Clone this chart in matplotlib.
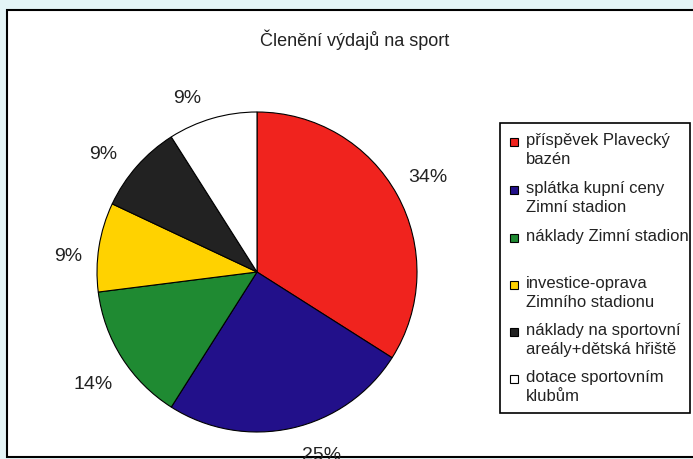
import matplotlib.pyplot as plt
from matplotlib.patches import Rectangle

plt.rcParams['font.family'] = ['Liberation Sans', 'DejaVu Sans']

title = 'Členění výdajů na sport'
labels = ['příspěvek Plavecký\nbazén',
          'splátka kupní ceny\nZimní stadion',
          'náklady Zimní stadion',
          'investice-oprava\nZimního stadionu',
          'náklady na sportovní\nareály+dětská hřiště',
          'dotace sportovním\nklubům']
shares = [34, 25, 14, 9, 9, 9]
colors = ['#f0231e', '#22108a', '#1f8a32', '#ffd200', '#222222', '#ffffff']
# first-line y of each legend entry (pixels from top)
legend_rows = [142, 190, 238, 285, 332, 379]
# small label nudges (pixels, x right / y up) to mimic Excel placement
label_nudge = [(0, 0), (22, 7), (1, -8), (4, -15), (-7, -12), (-15, -14)]

fig = plt.figure(figsize=(6.93, 4.59), dpi=100)
fig.patch.set_facecolor('#e4f4f6')
W, H = 693, 459
R = 160

# white chart area with black frame
fig.patches.append(Rectangle((7 / W, 1 - 457 / H), 700 / W, 447 / H,
                             transform=fig.transFigure, facecolor='white',
                             edgecolor='black', linewidth=1.5, zorder=-5))

ax = fig.add_axes([(257 - R) / W, (459 - 432) / H, 2 * R / W, 2 * R / H])
ax.patch.set_visible(False)
wedges, texts, autotexts = ax.pie(shares, colors=colors, startangle=90,
                                  counterclock=False, autopct='%1.0f%%',
                                  pctdistance=1.22,
                                  wedgeprops=dict(edgecolor='black', linewidth=0.8),
                                  textprops=dict(fontsize=14, color='#222222'))
for t, (dx, dy) in zip(autotexts, label_nudge):
    x, y = t.get_position()
    t.set_position((x + dx / R, y + dy / R))
ax.set_xlim(-1, 1)
ax.set_ylim(-1, 1)
ax.set_aspect('equal')

fig.text(355 / W, 1 - 40 / H, title, ha='center', va='center', fontsize=13,
         color='#222222')

# legend box
fig.patches.append(Rectangle((500 / W, 1 - 413 / H), 190 / W, 290 / H,
                             transform=fig.transFigure, facecolor='white',
                             edgecolor='black', linewidth=1.2, zorder=1))
for lab, col, y in zip(labels, colors, legend_rows):
    fig.patches.append(Rectangle((510 / W, 1 - (y + 4) / H), 8 / W, 8 / H,
                                 transform=fig.transFigure, facecolor=col,
                                 edgecolor='black', linewidth=0.8, zorder=2))
    fig.text(526 / W, 1 - (y - 9) / H, lab, ha='left', va='top',
             fontsize=12, color='#222222', linespacing=1.35, zorder=3)

fig.savefig('out.png', dpi=100, facecolor=fig.get_facecolor())
